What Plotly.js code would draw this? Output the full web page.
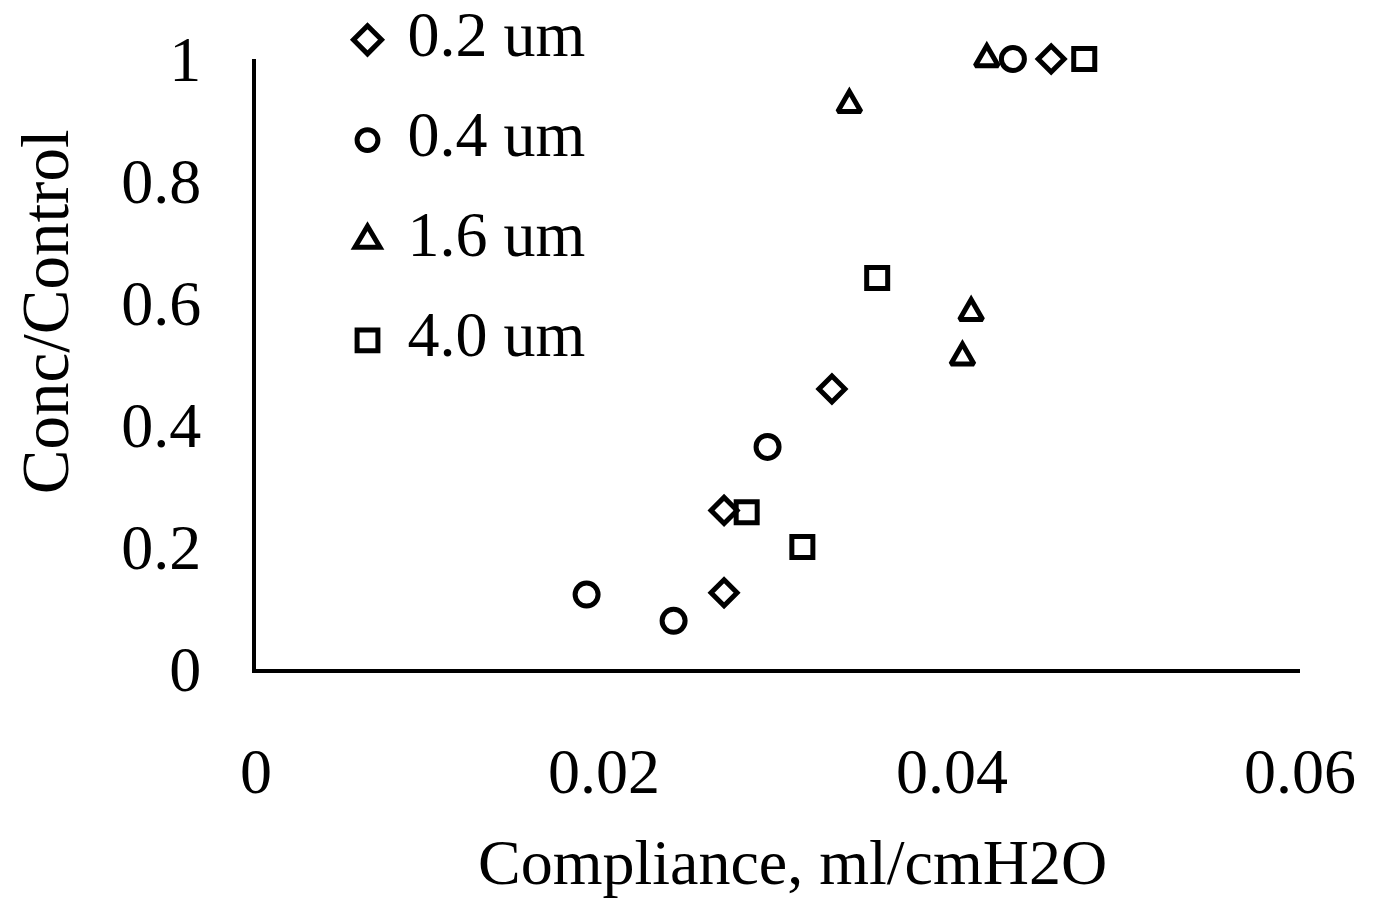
<!DOCTYPE html>
<html>
<head>
<meta charset="utf-8">
<script src="https://cdn.plot.ly/plotly-3.0.1.min.js"></script>
<style>html,body{margin:0;padding:0;background:#fff;}#chart{width:1381px;height:904px;}</style>
</head>
<body>
<div id="chart"></div>
<script>
const seriesNames = ["0.2 um", "0.4 um", "1.6 um", "4.0 um"];
const x02 = [0.0269, 0.0269, 0.0331, 0.0457];
const y02 = [0.125, 0.260, 0.459, 1.0];
const x04 = [0.0190, 0.0240, 0.0294, 0.0435];
const y04 = [0.122, 0.079, 0.364, 1.0];
const x16 = [0.0341, 0.0420, 0.0411, 0.0406];
const y16 = [0.925, 1.0, 0.584, 0.511];
const x40 = [0.0282, 0.0314, 0.0357, 0.0476];
const y40 = [0.257, 0.200, 0.641, 1.0];
const xTickVals = [0, 0.02, 0.04, 0.06];
const yTickVals = [0, 0.2, 0.4, 0.6, 0.8, 1];
const xTitle = "Compliance, ml/cmH2O";
const yTitle = "Conc/Control";

const FONT = "Liberation Serif, Times New Roman, serif";
const symbols = ["diamond-open", "circle-open", "triangle-up-open", "square-open"];
const sizes = [20, 23, 20, 21];
// legend symbol scale [sx, sy]; triangle is stretched vertically to look equilateral
const legendScales = [[1.35, 1.35], [1.3, 1.3], [1.35, 1.75], [1.3, 1.3]];
const pointScales = [[1, 1], [1, 1], [1, 1.33], [1, 1]];
const xs = [x02, x04, x16, x40];
const ys = [y02, y04, y16, y40];

const traces = seriesNames.map((name, i) => ({
  type: "scatter",
  mode: "markers",
  name: name,
  x: xs[i],
  y: ys[i],
  legendgroup: "g" + i,
  cliponaxis: false,
  marker: {
    symbol: symbols[i],
    size: sizes[i],
    color: "#000",
    line: {color: "#000", width: 5}
  }
}));

const layout = {
  width: 1381,
  height: 904,
  paper_bgcolor: "#fff",
  plot_bgcolor: "#fff",
  margin: {l: 256, r: 81, t: 59, b: 235, autoexpand: false},
  font: {family: FONT, size: 64, color: "#000"},
  showlegend: true,
  legend: {
    x: 0.1068, y: 1.125, xanchor: "left", yanchor: "top",
    bgcolor: "rgba(0,0,0,0)",
    font: {family: FONT, size: 64, color: "#000"},
    tracegroupgap: 14
  },
  xaxis: {
    range: [0, 0.06],
    tickvals: xTickVals,
    ticks: "",
    showgrid: false,
    zeroline: false,
    showline: true,
    linecolor: "#000",
    linewidth: 4,
    ticklabelstandoff: 43,
    tickfont: {family: FONT, size: 64, color: "#000"}
  },
  yaxis: {
    range: [0, 1],
    tickvals: yTickVals,
    ticks: "",
    showgrid: false,
    zeroline: false,
    showline: true,
    linecolor: "#000",
    linewidth: 4,
    ticklabelstandoff: 38,
    tickfont: {family: FONT, size: 64, color: "#000"}
  },
  annotations: [
    {text: xTitle, xref: "paper", yref: "paper", x: 0.514, y: -0.318,
     xanchor: "center", yanchor: "middle", showarrow: false,
     font: {family: FONT, size: 64, color: "#000"}},
    {text: yTitle, xref: "paper", yref: "paper", x: -0.202, y: 0.585,
     xanchor: "center", yanchor: "middle", showarrow: false, textangle: -90,
     font: {family: FONT, size: 67, color: "#000"}}
  ]
};

Plotly.newPlot("chart", traces, layout, {displayModeBar: false, staticPlot: true}).then(gd => {
  gd.querySelectorAll(".legend [clip-path]").forEach(el => el.removeAttribute("clip-path"));
  gd.querySelectorAll(".legend .traces").forEach((tr, i) => {
    const s = legendScales[i] || [1.2, 1.2];
    tr.querySelectorAll(".legendpoints path.scatterpts").forEach(p => {
      p.setAttribute("transform", "translate(0,9) scale(" + s[0] + "," + s[1] + ")");
      p.style.vectorEffect = "non-scaling-stroke";
      p.style.strokeWidth = "5px";
    });
  });
  gd.querySelectorAll(".scatterlayer .trace").forEach((tr, i) => {
    const s = pointScales[i] || [1, 1];
    if (s[0] === 1 && s[1] === 1) return;
    tr.querySelectorAll("path.point").forEach(p => {
      p.setAttribute("transform", (p.getAttribute("transform") || "") + " scale(" + s[0] + "," + s[1] + ")");
      p.style.vectorEffect = "non-scaling-stroke";
    });
  });
});
</script>
</body>
</html>
